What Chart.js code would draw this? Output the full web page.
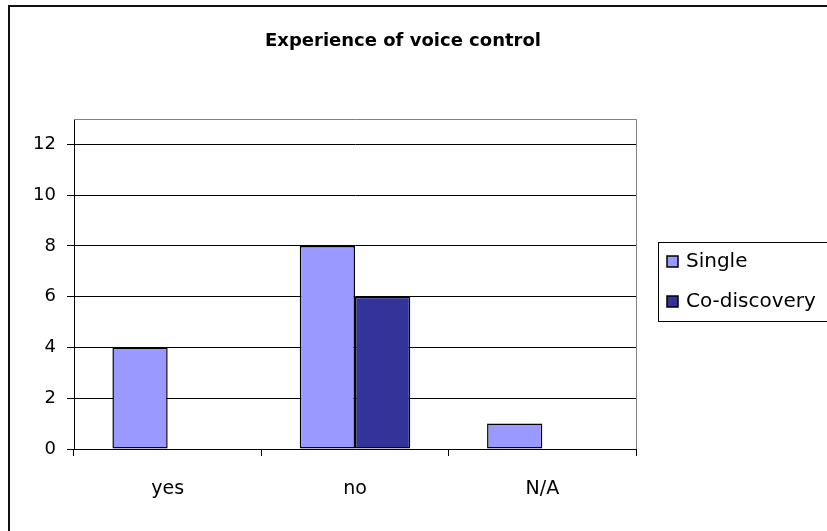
<!DOCTYPE html>
<html>
<head>
<meta charset="utf-8">
<style>
  html, body { margin: 0; padding: 0; background: #fff; }
  #wrap { position: relative; width: 827px; height: 531px; }
</style>
<script src="https://cdn.jsdelivr.net/npm/chart.js@4/dist/chart.umd.min.js"></script>
</head>
<body>
<div id="wrap"><canvas id="chart" width="827" height="531"></canvas></div>
<script>
// Survey answers per group
const categories = ['yes', 'no', 'N/A'];
const singleValues = [4, 8, 1];
const coDiscoveryValues = [0, 6, 0];
const seriesNames = ['Single', 'Co-discovery'];
const yTicks = [0, 2, 4, 6, 8, 10, 12];
const yMax = 13;
const chartTitle = 'Experience of voice control';

const FONT = '"DejaVu Sans", "Liberation Sans", sans-serif';

// White background and the outer frame around the whole chart
const framePlugin = {
  id: 'frame',
  beforeDraw(chart) {
    const ctx = chart.ctx;
    ctx.save();
    ctx.fillStyle = '#fff';
    ctx.fillRect(0, 0, chart.width, chart.height);
    ctx.strokeStyle = '#111';
    ctx.lineWidth = 2;
    ctx.strokeRect(9, 6, 900, 600);
    ctx.restore();
  }
};

// Grey top/right edges of the plot area
const plotBorderPlugin = {
  id: 'plotBorder',
  beforeDatasetsDraw(chart) {
    const { ctx, chartArea: a } = chart;
    ctx.save();
    ctx.strokeStyle = '#808080';
    ctx.lineWidth = 1;
    ctx.beginPath();
    ctx.moveTo(a.left, a.top + 0.5);
    ctx.lineTo(a.right + 0.5, a.top + 0.5);
    ctx.lineTo(a.right + 0.5, a.bottom);
    ctx.stroke();
    ctx.restore();
  }
};

// Title drawn above the plot
const titlePlugin = {
  id: 'chartTitle',
  afterDraw(chart) {
    const ctx = chart.ctx;
    ctx.save();
    ctx.fillStyle = '#000';
    ctx.font = 'bold 18px ' + FONT;
    ctx.textAlign = 'center';
    ctx.textBaseline = 'middle';
    ctx.fillText(chartTitle, 403, 41);
    ctx.restore();
  }
};

// Boxed legend on the right
const legendPlugin = {
  id: 'boxLegend',
  afterDraw(chart) {
    const ctx = chart.ctx;
    ctx.save();
    ctx.strokeStyle = '#000';
    ctx.lineWidth = 1;
    ctx.strokeRect(658.5, 242.5, 220, 79);
    ctx.font = '20px ' + FONT;
    ctx.textBaseline = 'middle';
    ctx.textAlign = 'left';
    chart.data.datasets.forEach((ds, i) => {
      const cy = 262 + i * 40;
      ctx.fillStyle = ds.backgroundColor;
      ctx.fillRect(667, cy - 6, 11, 11);
      ctx.strokeStyle = '#000';
      ctx.lineWidth = 1.5;
      ctx.strokeRect(667, cy - 6, 11, 11);
      ctx.fillStyle = '#000';
      ctx.fillText(ds.label, 686, cy);
    });
    ctx.restore();
  }
};

new Chart(document.getElementById('chart'), {
  type: 'bar',
  data: {
    labels: categories,
    datasets: [
      {
        label: seriesNames[0],
        data: singleValues,
        backgroundColor: '#9999FF',
        borderColor: '#000',
        borderWidth: 1.5,
        borderSkipped: false
      },
      {
        label: seriesNames[1],
        data: coDiscoveryValues,
        backgroundColor: '#333399',
        borderColor: '#000',
        borderWidth: 1.5,
        borderSkipped: false
      }
    ]
  },
  options: {
    responsive: false,
    animation: false,
    devicePixelRatio: 1,
    layout: { padding: { top: 119, right: 191, bottom: 0, left: 0 } },
    datasets: { bar: { categoryPercentage: 0.59, barPercentage: 1.0 } },
    plugins: {
      legend: { display: false },
      title: { display: false },
      tooltip: { enabled: false }
    },
    scales: {
      x: {
        offset: true,
        afterFit(scale) { scale.height = 82; },
        grid: {
          offset: true,
          drawOnChartArea: false,
          drawTicks: true,
          tickLength: 7,
          color: '#000',
          lineWidth: 1
        },
        border: { display: true, color: '#000', width: 1 },
        ticks: {
          color: '#000',
          padding: 22,
          font: { family: FONT, size: 19 }
        }
      },
      y: {
        min: 0,
        max: yMax,
        afterFit(scale) { scale.width = 74; },
        afterBuildTicks(scale) { scale.ticks = yTicks.map(v => ({ value: v })); },
        grid: {
          color: '#000',
          lineWidth: 1,
          drawTicks: true,
          tickLength: 7
        },
        border: { display: true, color: '#000', width: 1 },
        ticks: {
          color: '#000',
          padding: 11,
          font: { family: FONT, size: 18 }
        }
      }
    }
  },
  plugins: [framePlugin, plotBorderPlugin, titlePlugin, legendPlugin]
});
</script>
</body>
</html>
